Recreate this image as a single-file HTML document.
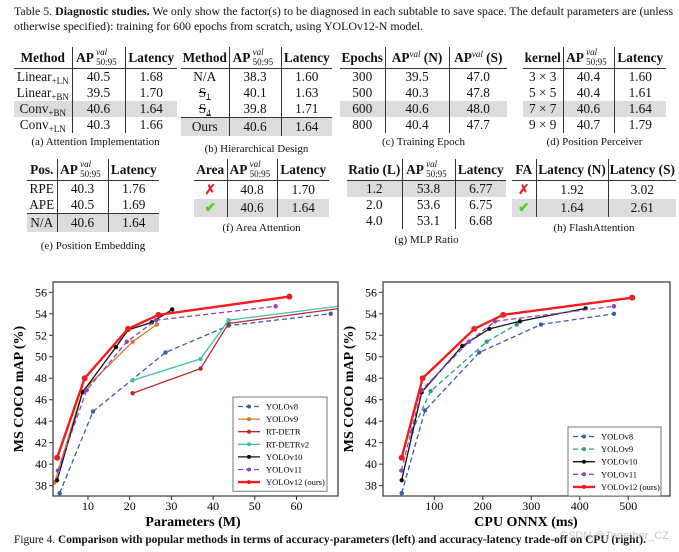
<!DOCTYPE html>
<html><head><meta charset="utf-8">
<style>
body{margin:0;background:#fff;width:679px;height:552px;overflow:hidden;position:relative;font-family:"Liberation Serif",serif;color:#111}
.cap{position:absolute;left:14px;font-size:11.9px;white-space:nowrap}
table.t{position:absolute;border-collapse:collapse;font-size:13.3px;table-layout:fixed}
table.t th{font-weight:bold;height:21px;line-height:21px;border-bottom:1.5px solid #333;padding:0;white-space:nowrap;text-align:center}
table.t td{height:16px;padding:0;text-align:center;white-space:nowrap;line-height:16px}
table.t th:not(:last-child),table.t td:not(:last-child){border-right:1px solid #333}
tr.sh td{background:#dcdcdc}
tr.top td{border-top:1.5px solid #333}
td.l{text-align:left;padding-left:2px}
.sub{position:absolute;font-size:11px;text-align:center;white-space:nowrap}
sup{font-size:9px;font-style:italic;font-weight:normal;line-height:0;vertical-align:5px}
sub{font-size:9px;line-height:0;vertical-align:-3px}
.ap{display:inline-block;position:relative;padding-right:27px;line-height:21px;height:21px;vertical-align:top}
.ap .sp{position:absolute;left:20px;top:0px;font-size:9px;font-style:italic;font-weight:normal;line-height:10px}
.ap .sb{position:absolute;left:20px;top:10px;font-size:9px;font-weight:normal;line-height:10px}
.x{color:#e8202a;font-weight:bold}.ok{color:#3ed11e;font-weight:bold}
</style></head><body>
<div class="cap" style="top:4px">Table 5. <b>Diagnostic studies.</b> We only show the factor(s) to be diagnosed in each subtable to save space. The default parameters are (unless</div>
<div class="cap" style="top:19px">otherwise specified): training for 600 epochs from scratch, using YOLOv12-N model.</div>

<table class="t" style="left:14px;top:47px;width:163px">
<colgroup><col style="width:58px"><col style="width:53px"><col style="width:52px"></colgroup>
<tr><th>Method</th><th><span class="ap">AP<span class="sp">val</span><span class="sb">50:95</span></span></th><th>Latency</th></tr>
<tr><td class="l">Linear<sub>+LN</sub></td><td>40.5</td><td>1.68</td></tr>
<tr><td class="l">Linear<sub>+BN</sub></td><td>39.5</td><td>1.70</td></tr>
<tr class="sh"><td class="l">Conv<sub>+BN</sub></td><td>40.6</td><td>1.64</td></tr>
<tr><td class="l">Conv<sub>+LN</sub></td><td>40.3</td><td>1.66</td></tr>
</table>
<div class="sub" style="left:14px;width:163px;top:136px">(a) Attention Implementation</div>

<table class="t" style="left:181px;top:47px;width:151px">
<colgroup><col style="width:48px"><col style="width:52px"><col style="width:51px"></colgroup>
<tr><th>Method</th><th><span class="ap">AP<span class="sp">val</span><span class="sb">50:95</span></span></th><th>Latency</th></tr>
<tr><td class="l">N/A</td><td>38.3</td><td>1.60</td></tr>
<tr><td class="l"><s>S<sub>1</sub></s></td><td>40.1</td><td>1.63</td></tr>
<tr><td class="l"><s>S<sub>4</sub></s></td><td>39.8</td><td>1.71</td></tr>
<tr class="sh top"><td class="l" style="height:18px">Ours</td><td>40.6</td><td>1.64</td></tr>
</table>
<div class="sub" style="left:181px;width:151px;top:143px">(b) Hierarchical Design</div>

<table class="t" style="left:340px;top:47px;width:167px">
<colgroup><col style="width:45px"><col style="width:64px"><col style="width:58px"></colgroup>
<tr><th>Epochs</th><th>AP<sup>val</sup> (N)</th><th>AP<sup>val</sup> (S)</th></tr>
<tr><td class="l">300</td><td>39.5</td><td>47.0</td></tr>
<tr><td class="l">500</td><td>40.3</td><td>47.8</td></tr>
<tr class="sh"><td class="l">600</td><td>40.6</td><td>48.0</td></tr>
<tr><td class="l">800</td><td>40.4</td><td>47.7</td></tr>
</table>
<div class="sub" style="left:340px;width:167px;top:136px">(c) Training Epoch</div>

<table class="t" style="left:523px;top:47px;width:143px">
<colgroup><col style="width:40px"><col style="width:51px"><col style="width:52px"></colgroup>
<tr><th>kernel</th><th><span class="ap">AP<span class="sp">val</span><span class="sb">50:95</span></span></th><th>Latency</th></tr>
<tr><td>3 × 3</td><td>40.4</td><td>1.60</td></tr>
<tr><td>5 × 5</td><td>40.4</td><td>1.61</td></tr>
<tr class="sh"><td>7 × 7</td><td>40.6</td><td>1.64</td></tr>
<tr><td>9 × 9</td><td>40.7</td><td>1.79</td></tr>
</table>
<div class="sub" style="left:523px;width:143px;top:136px">(d) Position Perceiver</div>

<table class="t" style="left:27px;top:159px;width:132px">
<colgroup><col style="width:30px"><col style="width:51px"><col style="width:51px"></colgroup>
<tr><th>Pos.</th><th><span class="ap">AP<span class="sp">val</span><span class="sb">50:95</span></span></th><th>Latency</th></tr>
<tr><td class="l">RPE</td><td>40.3</td><td>1.76</td></tr>
<tr><td class="l">APE</td><td>40.5</td><td>1.69</td></tr>
<tr class="sh top"><td class="l" style="height:18px">N/A</td><td>40.6</td><td>1.64</td></tr>
</table>
<div class="sub" style="left:27px;width:132px;top:240px">(e) Position Embedding</div>

<table class="t" style="left:194px;top:159px;width:135px">
<colgroup><col style="width:33px"><col style="width:50px"><col style="width:52px"></colgroup>
<tr><th>Area</th><th><span class="ap">AP<span class="sp">val</span><span class="sb">50:95</span></span></th><th>Latency</th></tr>
<tr><td class="x" style="height:18px">✗</td><td>40.8</td><td>1.70</td></tr>
<tr class="sh"><td class="ok" style="height:18px">✔</td><td>40.6</td><td>1.64</td></tr>
</table>
<div class="sub" style="left:194px;width:135px;top:222px">(f) Area Attention</div>

<table class="t" style="left:347px;top:159px;width:159px">
<colgroup><col style="width:55px"><col style="width:53px"><col style="width:51px"></colgroup>
<tr><th>Ratio (L)</th><th><span class="ap">AP<span class="sp">val</span><span class="sb">50:95</span></span></th><th>Latency</th></tr>
<tr class="sh"><td>1.2</td><td>53.8</td><td>6.77</td></tr>
<tr><td>2.0</td><td>53.6</td><td>6.75</td></tr>
<tr><td>4.0</td><td>53.1</td><td>6.68</td></tr>
</table>
<div class="sub" style="left:347px;width:159px;top:234px">(g) MLP Ratio</div>

<table class="t" style="left:512px;top:159px;width:164px">
<colgroup><col style="width:24px"><col style="width:72px"><col style="width:68px"></colgroup>
<tr><th>FA</th><th>Latency (N)</th><th>Latency (S)</th></tr>
<tr><td class="x" style="height:18px">✗</td><td>1.92</td><td>3.02</td></tr>
<tr class="sh"><td class="ok" style="height:18px">✔</td><td>1.64</td><td>2.61</td></tr>
</table>
<div class="sub" style="left:512px;width:164px;top:222px">(h) FlashAttention</div>

<svg id="ch" width="679" height="552" style="position:absolute;left:0;top:0"></svg>
<div class="cap" style="top:534px;font-size:11.4px">Figure 4. <b>Comparison with popular methods in terms of accuracy-parameters (left) and accuracy-latency trade-off on CPU (right).</b></div>
<div style="position:absolute;left:560px;top:530px;font-family:'Liberation Sans',sans-serif;font-size:11px;color:rgba(150,150,150,0.55)">CSDN @Together_CZ</div>

<script>
// Left chart data (Parameters M vs mAP)
const L_v8x=[3.2,11.2,28.6,43.7,68.2], L_v8y=[37.3,44.9,50.4,52.9,54.0];
const L_v9x=[2.0,8.7,20.7,26.5], L_v9y=[38.3,46.8,51.4,53.0];
const L_rtx=[20.7,37.0,43.7,76.0], L_rty=[46.6,48.9,53.1,54.8];
const L_rt2x=[20.7,37.0,43.7,76.0], L_rt2y=[47.8,49.8,53.4,55.0];
const L_v10x=[2.6,8.7,16.7,19.6,25.3,30.2], L_v10y=[38.5,46.7,50.9,52.5,53.2,54.4];
const L_v11x=[2.8,9.7,19.3,26.3,55.0], L_v11y=[39.4,46.9,51.4,53.4,54.7];
const L_v12x=[2.6,9.2,19.6,26.9,58.3], L_v12y=[40.6,48.0,52.6,53.9,55.6];
// Right chart data (CPU ONNX ms vs mAP)
const R_v8x=[32.8,80.8,192.8,320,470.5], R_v8y=[37.3,45.0,50.4,53.0,54.0];
const R_v9x=[53.4,92.6,208,270], R_v9y=[43.0,46.8,51.4,53.0];
const R_v10x=[32.8,74,157.7,213.4,276.7,412], R_v10y=[38.5,46.7,51.0,52.6,53.3,54.5];
const R_v11x=[32,74,171.5,225,470.5], R_v11y=[39.4,46.9,51.4,53.3,54.7];
const R_v12x=[32.8,76,182.5,242,508], R_v12y=[40.6,48.0,52.6,53.9,55.5];
const yTicks=[38,40,42,44,46,48,50,52,54,56];
const LxTicks=[10,20,30,40,50,60];
const RxTicks=[100,200,300,400,500];

const NS="http://www.w3.org/2000/svg";
const svg=document.getElementById('ch');
function mk(tag,at,parent){const e=document.createElementNS(NS,tag);for(const k in at)e.setAttribute(k,at[k]);(parent||svg).appendChild(e);return e;}

function chart(cfg){
  const g=mk('g',{});
  
  
  const X=v=>cfg.x0px+(v-cfg.x0v)*cfg.xs;
  const Y=v=>292.3+(56-v)*10.74;
  const clipId=cfg.name+'-clip';
  const cp=mk('clipPath',{id:clipId},g);
  mk('rect',{x:cfg.bl,y:282,width:cfg.br-cfg.bl,height:214},cp);
  yTicks.forEach(t=>{
    const tk=mk('line',{x1:cfg.bl-4,x2:cfg.bl,y1:Y(t),y2:Y(t),stroke:'#333'},g);
    
    
    const tx=mk('text',{x:cfg.bl-6,y:Y(t)+4,'text-anchor':'end','font-size':'12','font-family':'Liberation Serif'},g);
    tx.textContent=t;
    
    
  });
  cfg.xt.forEach(t=>{
    mk('line',{x1:X(t),x2:X(t),y1:496,y2:500,stroke:'#333'},g);
    const tx=mk('text',{x:X(t),y:510,'text-anchor':'middle','font-size':'12','font-family':'Liberation Serif'},g);
    tx.textContent=t;
    
    
  });
  const pg=mk('g',{'clip-path':'url(#'+clipId+')'},g);
  cfg.series.forEach(s=>{
    const pts=s.x.map((v,i)=>X(v)+','+Y(s.y[i])).join(' ');
    const pl=mk('polyline',{points:pts,fill:'none',stroke:s.c,'stroke-width':s.w||1.3,'stroke-dasharray':s.d||''},pg);
    
    
    s.x.forEach((v,i)=>{
      const c=mk('circle',{cx:X(v),cy:Y(s.y[i]),r:s.r||2.2,fill:s.c},pg);
      
      
    });
  });
  const fr=mk('rect',{x:cfg.bl,y:282,width:cfg.br-cfg.bl,height:214,fill:'none',stroke:'#333','stroke-width':1.2},g);
  
  
  const yl=mk('text',{transform:`translate(${cfg.bl-30},389) rotate(-90)`,'text-anchor':'middle','font-size':'14','font-weight':'bold','font-family':'Liberation Serif'},g);
  yl.textContent='MS COCO mAP (%)';
  
  
  const xl=mk('text',{x:cfg.xlx,y:526,'text-anchor':'middle','font-size':'14','font-weight':'bold','font-family':'Liberation Serif'},g);
  xl.textContent=cfg.xlabel;
  
  
  const lg=mk('g',{},g);
  
  
  mk('rect',{x:cfg.lx,y:cfg.ly,width:cfg.lw,height:cfg.series.length*12.6+6,fill:'#fff',stroke:'#555','stroke-width':0.8},lg);
  cfg.series.forEach((s,i)=>{
    const yy=cfg.ly+9.5+i*12.6;
    const e=mk('g',{},lg);
    
    
    mk('line',{x1:cfg.lx+5,x2:cfg.lx+27,y1:yy,y2:yy,stroke:s.c,'stroke-width':s.w||1.3,'stroke-dasharray':s.d||''},e);
    mk('circle',{cx:cfg.lx+16,cy:yy,r:2,fill:s.c},e);
    const t=mk('text',{x:cfg.lx+33,y:yy+3,'font-size':'8.5','font-family':'Liberation Serif'},e);
    t.textContent=s.n;
  });
}
const B='#3b5ca8',O='#d27a2c',RD='#c0262e',TE='#3dbfae',K='#111',P='#8c44b8',RR='#f21c1c',T9='#2f9a8c';
chart({name:'params-chart',bl:53,br:338,x0px:88,x0v:10,xs:4.17,xt:LxTicks,xlabel:'Parameters (M)',xlx:193,lx:233,ly:397,lw:94,
series:[{n:'YOLOv8',x:L_v8x,y:L_v8y,c:B,d:'5,3'},{n:'YOLOv9',x:L_v9x,y:L_v9y,c:O},{n:'RT-DETR',x:L_rtx,y:L_rty,c:RD},{n:'RT-DETRv2',x:L_rt2x,y:L_rt2y,c:TE},{n:'YOLOv10',x:L_v10x,y:L_v10y,c:K},{n:'YOLOv11',x:L_v11x,y:L_v11y,c:P,d:'5,3'},{n:'YOLOv12 (ours)',x:L_v12x,y:L_v12y,c:RR,w:2.4,r:3}]});
chart({name:'latency-chart',bl:383,br:670,x0px:434.3,x0v:100,xs:0.485,xt:RxTicks,xlabel:'CPU ONNX (ms)',xlx:526,lx:568,ly:427,lw:93,
series:[{n:'YOLOv8',x:R_v8x,y:R_v8y,c:B,d:'5,3'},{n:'YOLOv9',x:R_v9x,y:R_v9y,c:T9,d:'5,3'},{n:'YOLOv10',x:R_v10x,y:R_v10y,c:K},{n:'YOLOv11',x:R_v11x,y:R_v11y,c:P,d:'5,3'},{n:'YOLOv12 (ours)',x:R_v12x,y:R_v12y,c:RR,w:2.4,r:3}]});
</script>
</body></html>
